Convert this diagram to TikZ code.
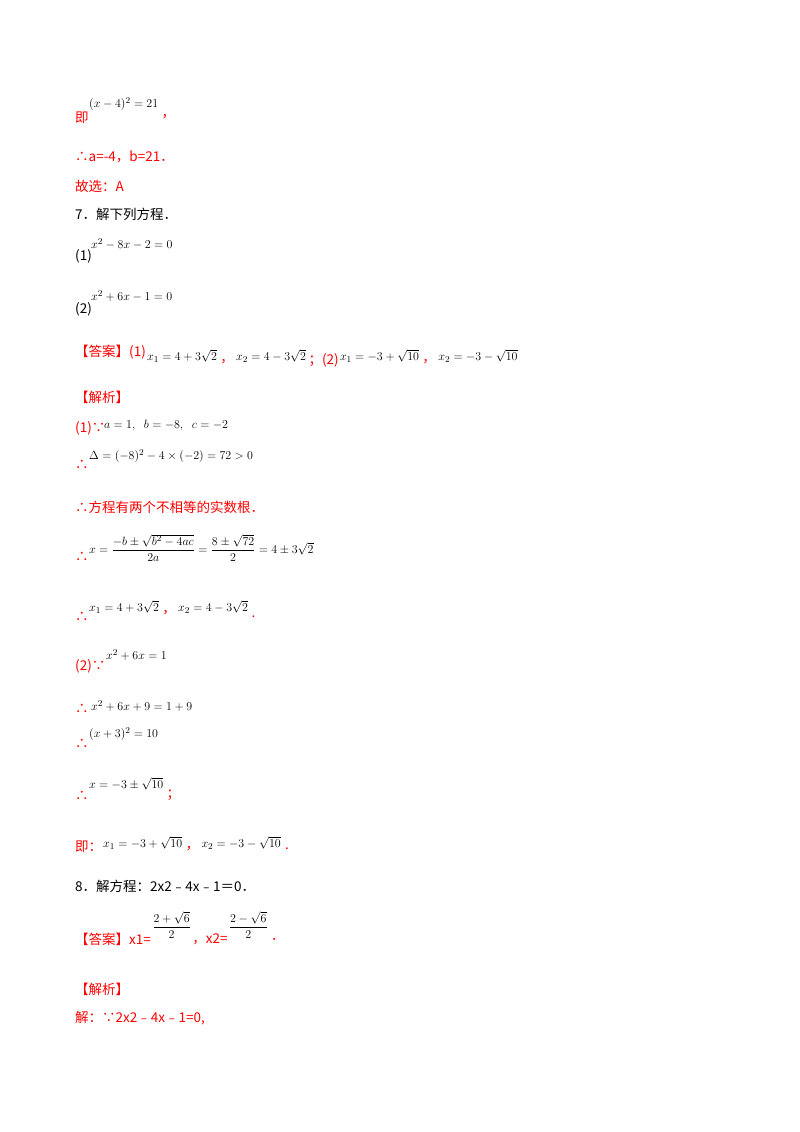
\documentclass[tikz,border=0pt]{standalone}
\usepackage{fontspec}
\usepackage{amsmath}
\newfontfamily\cjk{Noto Sans CJK SC}
\definecolor{ansred}{RGB}{255,0,0}
\begin{document}
\begin{tikzpicture}[x=1pt,y=-1pt,
  t/.style={anchor=west,inner sep=0pt,font=\cjk\fontsize{13.5}{15}\selectfont},
  r/.style={t,text=ansred},
  m/.style={anchor=west,inner sep=0pt,font=\fontsize{13}{15}\selectfont}]
\useasboundingbox (0,0) rectangle (800,1132);
\fill[white] (0,0) rectangle (800,1132);
\node[r] (a1) at (75,118) {即};
\node[m] (a2) at (89,104) {$(x-4)^2=21$};
\node[r] (a3) at ([xshift=3pt,yshift=-13pt]a2.east) {，};
\node[r] (b) at (75,157) {∴\textit{a}=-4，\textit{b}=21．};
\node[r] (c) at (75,186) {故选：A};
\node[t] (d) at (75,214) {7．解下列方程．};
\node[t] (e1) at (75,256) {(1)};
\node[m] (e2) at (91,244) {$x^2-8x-2=0$};
\node[t] (f1) at (75,309) {(2)};
\node[m] (f2) at (91,296) {$x^2+6x-1=0$};
\node[r] (g1) at (75,352) {【答案】(1)};
\node[m] (g2) at ([xshift=1pt,yshift=-4pt]g1.east) {$x_1=4+3\sqrt2$};
\node[r] (g3) at ([xshift=3pt,yshift=-6pt]g2.east) {，};
\node[m] (g4) at ([xshift=2pt,yshift=6pt]g3.east) {$x_2=4-3\sqrt2$};
\node[r] (g5) at ([xshift=2pt,yshift=-4pt]g4.east) {；(2)};
\node[m] (g6) at ([xshift=1pt,yshift=4pt]g5.east) {$x_1=-3+\sqrt{10}$};
\node[r] (g7) at ([xshift=3pt,yshift=-6pt]g6.east) {，};
\node[m] (g8) at ([xshift=2pt,yshift=6pt]g7.east) {$x_2=-3-\sqrt{10}$};
\node[r] (h) at (75,397) {【解析】};
\node[r] (i1) at (75,428) {(1)∵};
\node[m] (i2) at (104,425) {$a=1,\;\;b=-8,\;\;c=-2$};
\node[r] (j1) at (75,465) {∴};
\node[m] (j2) at (89,456) {$\Delta=(-8)^2-4\times(-2)=72>0$};
\node[r] (k) at (75,507) {∴方程有两个不相等的实数根．};
\node[r] (l1) at (75,557) {∴};
\node[m] (l2) at (89,548) {$x=\dfrac{-b\pm\sqrt{b^2-4ac}}{2a}=\dfrac{8\pm\sqrt{72}}{2}=4\pm3\sqrt2$};
\node[r] (n1) at (75,617) {∴};
\node[m] (n2) at (89,607) {$x_1=4+3\sqrt2$};
\node[r] (n3) at ([xshift=3pt,yshift=-6pt]n2.east) {，};
\node[m] (n4) at ([xshift=2pt,yshift=6pt]n3.east) {$x_2=4-3\sqrt2$};
\node[r] (n5) at ([xshift=3pt,yshift=-10pt]n4.east) {.};
\node[r] (o1) at (75,666) {(2)∵};
\node[m] (o2) at (106,655) {$x^2+6x=1$};
\node[r] (p1) at (75,709) {∴};
\node[m] (p2) at (91,706) {$x^2+6x+9=1+9$};
\node[r] (q1) at (75,744) {∴};
\node[m] (q2) at (89,734) {$(x+3)^2=10$};
\node[r] (s1) at (75,796) {∴};
\node[m] (s2) at (89,784) {$x=-3\pm\sqrt{10}$};
\node[r] (s3) at ([xshift=3pt,yshift=-11pt]s2.east) {；};
\node[r] (u1) at (75,847) {即：};
\node[m] (u2) at (103,843) {$x_1=-3+\sqrt{10}$};
\node[r] (u3) at ([xshift=3pt,yshift=-6pt]u2.east) {，};
\node[m] (u4) at ([xshift=2pt,yshift=6pt]u3.east) {$x_2=-3-\sqrt{10}$};
\node[r] (u5) at ([xshift=4pt,yshift=-6pt]u4.east) {.};
\node[t] (v) at (75,886) {8．解方程：2x2﹣4x﹣1＝0．};
\node[r] (w1) at (75,939) {【答案】x1=};
\node[m] (w2) at ([xshift=1pt,yshift=14pt]w1.east) {$\dfrac{2+\sqrt6}{2}$};
\node[r] (w3) at ([xshift=1pt,yshift=-14pt]w2.east) {，x2=};
\node[m] (w4) at ([xshift=1pt,yshift=14pt]w3.east) {$\dfrac{2-\sqrt6}{2}$};
\node[r] (w5) at ([xshift=3pt,yshift=-14pt]w4.east) {．};
\node[r] (x) at (75,989) {【解析】};
\node[r] (y) at (75,1018) {解：∵2x2﹣4x﹣1=0,};
\end{tikzpicture}
\end{document}
